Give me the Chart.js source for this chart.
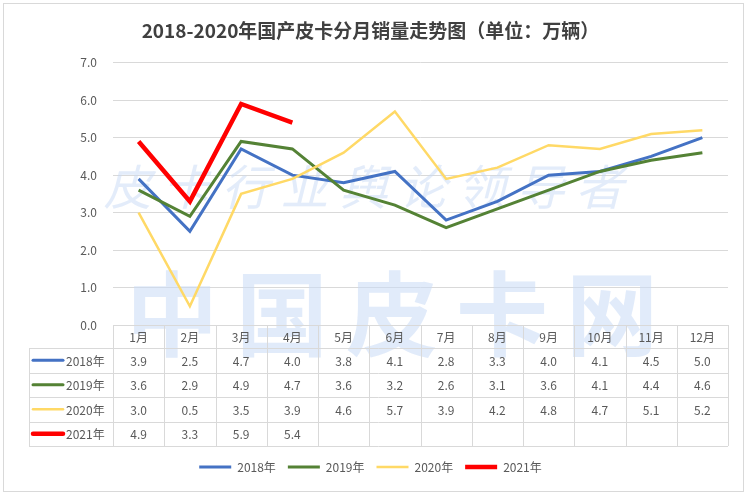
<!DOCTYPE html>
<html>
<head>
<meta charset="utf-8">
<script src="https://cdn.jsdelivr.net/npm/chart.js@4/dist/chart.umd.min.js"></script>
<style>
html,body{margin:0;padding:0;background:#fff;}
#wrap{width:750px;height:497px;position:relative;}
</style>
</head>
<body>
<div id="wrap"><canvas id="c" width="750" height="497"></canvas></div>
<script>
const titleText = '2018-2020年国产皮卡分月销量走势图（单位：万辆）';
const months = ['1月','2月','3月','4月','5月','6月','7月','8月','9月','10月','11月','12月'];
const seriesNames = ['2018年','2019年','2020年','2021年'];
const sales2018 = [3.9,2.5,4.7,4.0,3.8,4.1,2.8,3.3,4.0,4.1,4.5,5.0];
const sales2019 = [3.6,2.9,4.9,4.7,3.6,3.2,2.6,3.1,3.6,4.1,4.4,4.6];
const sales2020 = [3.0,0.5,3.5,3.9,4.6,5.7,3.9,4.2,4.8,4.7,5.1,5.2];
const sales2021 = [4.9,3.3,5.9,5.4,null,null,null,null,null,null,null,null];
const yTicks = [0,1,2,3,4,5,6,7];
const watermarkMain = '中国皮卡网';
const watermarkSub = '皮卡行业舆论领导者';

const colors = ['#4472C4','#548235','#FFD966','#FF0000'];
const widths = [3,3,2.5,4.5];
const allSeries = [sales2018, sales2019, sales2020, sales2021];
const FONT = '"Noto Sans CJK SC","Noto Sans",sans-serif';
const TXT = '#595959';
const GRID = '#d9d9d9';

const tablePlugin = {
  id: 'tablePlugin',
  beforeDraw(chart) {
    const ctx = chart.ctx;
    ctx.save();
    ctx.fillStyle = '#fff';
    ctx.fillRect(0,0,chart.width,chart.height);
    ctx.strokeStyle = GRID;
    ctx.lineWidth = 1;
    ctx.strokeRect(3.5,3.5,740,488);
    ctx.restore();
  },
  beforeDatasetsDraw(chart) {
    const ctx = chart.ctx;
    ctx.save();
    ctx.fillStyle = 'rgba(200,218,245,0.55)';
    ctx.font = 'bold 92px ' + FONT;
    ctx.textBaseline = 'middle';
    ctx.textAlign = 'center';
    const chars = watermarkMain.split('');
    chars.forEach((ch, i) => {
      ctx.fillText(ch, 172 + i * 110, 314);
    });
    ctx.fillStyle = 'rgba(200,218,245,0.5)';
    ctx.font = '48px ' + FONT;
    const sub = watermarkSub.split('');
    sub.forEach((ch, i) => {
      ctx.save();
      ctx.translate(132 + i * 59, 187);
      ctx.transform(1,0,-0.25,1,0,0);
      ctx.fillText(ch, 0, 0);
      ctx.restore();
    });
    ctx.restore();
  },
  afterDraw(chart) {
    const ctx = chart.ctx;
    const ca = chart.chartArea;
    const xs = chart.scales.x;
    const left = ca.left, right = ca.right;
    const colW = (right - left) / months.length;
    const top = ca.bottom;
    const headerH = 23;
    const rowH = 24.5;
    const labelLeft = 29;
    const bottom = top + headerH + rowH * 4;
    ctx.save();
    ctx.strokeStyle = GRID;
    ctx.lineWidth = 1;
    ctx.beginPath();
    ctx.moveTo(left, Math.round(top) + 0.5); ctx.lineTo(right, Math.round(top) + 0.5);
    for (let r = 0; r <= 4; r++) {
      const y = Math.round(top + headerH + r * rowH) + 0.5;
      ctx.moveTo(labelLeft, y); ctx.lineTo(right, y);
    }
    for (let c = 0; c <= months.length; c++) {
      const x = Math.round(left + c * colW) + 0.5;
      ctx.moveTo(x, top); ctx.lineTo(x, bottom);
    }
    ctx.moveTo(labelLeft + 0.5, top + headerH); ctx.lineTo(labelLeft + 0.5, bottom);
    ctx.stroke();

    ctx.fillStyle = TXT;
    ctx.font = '12px ' + FONT;
    ctx.textAlign = 'center';
    ctx.textBaseline = 'middle';
    months.forEach((m, i) => {
      const x = xs.getPixelForValue(i);
      ctx.fillText(m, x, top + headerH / 2 + 1);
    });
    allSeries.forEach((s, r) => {
      const yc = top + headerH + r * rowH + rowH / 2 + 1;
      s.forEach((v, i) => {
        if (v === null) return;
        ctx.fillText(v.toFixed(1), xs.getPixelForValue(i), yc);
      });
      ctx.save();
      ctx.strokeStyle = colors[r];
      ctx.lineWidth = widths[r];
      ctx.lineCap = 'round';
      ctx.beginPath();
      ctx.moveTo(33, yc - 1); ctx.lineTo(63, yc - 1);
      ctx.stroke();
      ctx.restore();
      ctx.textAlign = 'left';
      ctx.fillText(seriesNames[r], 66, yc);
      ctx.textAlign = 'center';
    });
    ctx.restore();
  }
};

new Chart(document.getElementById('c'), {
  type: 'line',
  data: {
    labels: months,
    datasets: seriesNames.map((n, i) => ({
      label: n,
      data: allSeries[i],
      borderColor: colors[i],
      backgroundColor: colors[i],
      borderWidth: widths[i],
      pointRadius: 0,
      pointHoverRadius: 0,
      tension: 0,
      spanGaps: false,
      fill: false,
      order: 4 - i
    }))
  },
  options: {
    responsive: false,
    animation: false,
    layout: { padding: { left: 13, right: 22, top: 0, bottom: 14 } },
    plugins: {
      title: {
        display: true,
        text: titleText,
        color: '#404040',
        font: { family: FONT, size: 19, weight: 'bold' },
        padding: { top: 19, bottom: 21 }
      },
      legend: {
        position: 'bottom',
        reverse: true,
        labels: {
          usePointStyle: true,
          pointStyle: 'line',
          pointStyleWidth: 32,
          padding: 12,
          color: TXT,
          font: { family: FONT, size: 12 }
        }
      },
      tooltip: { enabled: false }
    },
    scales: {
      x: {
        offset: true,
        grid: { display: false, drawTicks: false },
        border: { display: false },
        ticks: { display: false },
        afterFit(scale) { scale.height = 124; }
      },
      y: {
        min: 0,
        max: 7,
        afterBuildTicks(scale) { scale.ticks = yTicks.map(v => ({ value: v })); },
        grid: { color: GRID, lineWidth: 1, drawTicks: false },
        border: { display: false },
        ticks: {
          padding: 16,
          color: TXT,
          font: { family: FONT, size: 12 },
          callback: v => Number(v).toFixed(1)
        },
        afterFit(scale) { scale.width = 100; }
      }
    }
  },
  plugins: [tablePlugin]
});
</script>
</body>
</html>
